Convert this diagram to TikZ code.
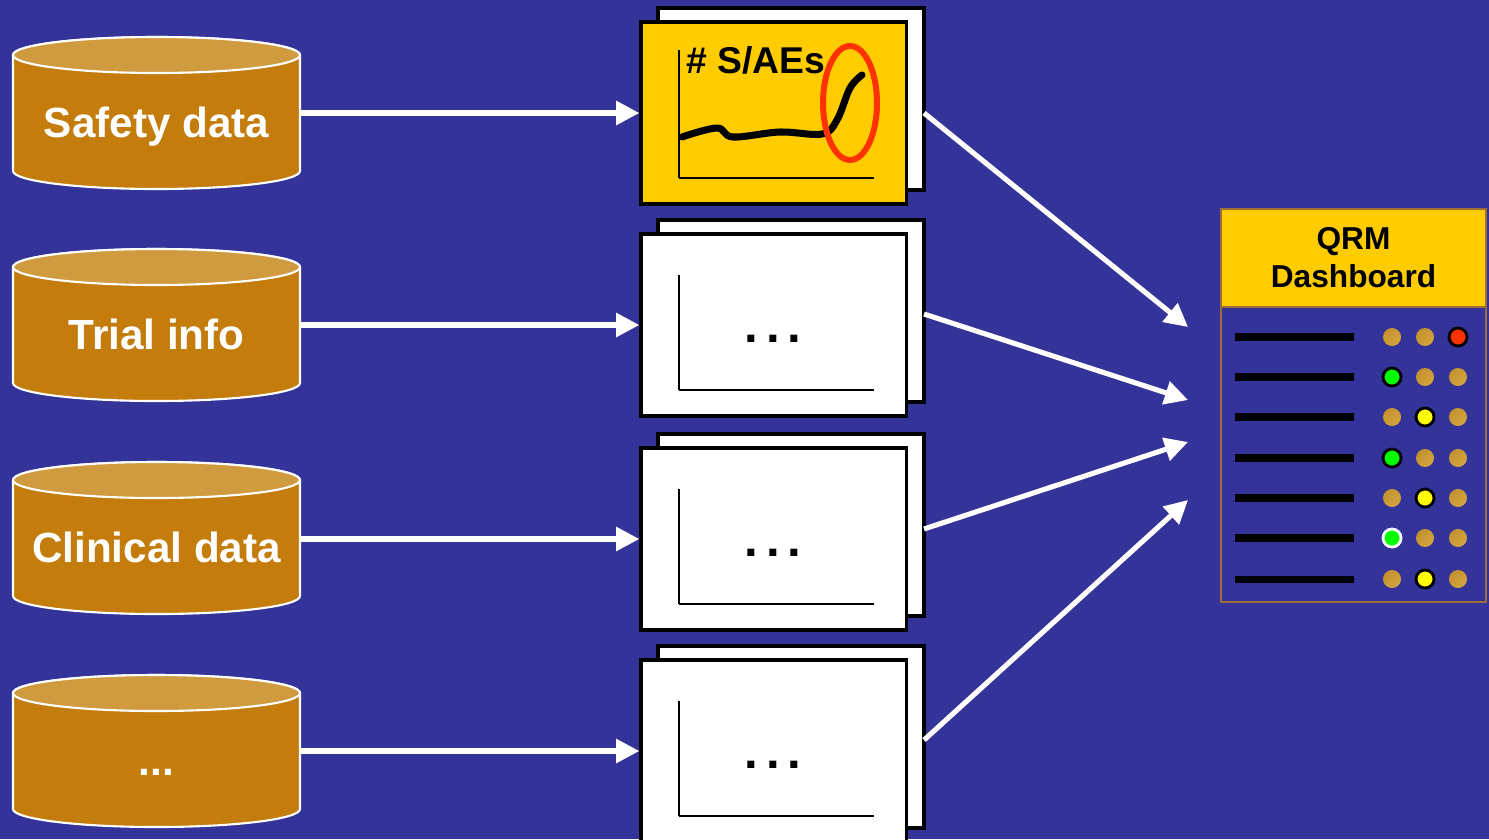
\documentclass[tikz,border=0pt]{standalone}
\usepackage{fontspec}
\setmainfont{Liberation Sans}
\usetikzlibrary{arrows.meta}
\definecolor{bgblue}{HTML}{333399}
\definecolor{cylbody}{HTML}{C47D0C}
\definecolor{cyltop}{HTML}{D09A3E}
\definecolor{qyellow}{HTML}{FFCC00}
\definecolor{qred}{HTML}{FF3300}
\definecolor{qgreen}{HTML}{00FF00}
\definecolor{qlemon}{HTML}{FFFF00}
\definecolor{qgold}{HTML}{D3A53F}
\definecolor{qgolddark}{HTML}{C4922E}
\definecolor{qbrown}{HTML}{9C6E34}
\newcommand\moredata{...}
\tikzset{
  flow/.style={draw=white, line width=1.45pt, -{Triangle[length=6.6pt,width=6.6pt]}},
  dblabel/.style={text=white, anchor=base, font=\fontsize{12}{14}\selectfont\bfseries},
  cylbodyst/.style={fill=cylbody, draw=white, line width=0.6pt},
  cyltopst/.style={fill=cyltop, draw=white, line width=0.6pt},
  backsheet/.style={fill=white, draw=black, line width=0.9pt},
  frontsheet/.style={draw=black, line width=0.9pt, minimum width=2.65cm, minimum height=1.82cm, inner sep=0pt},
  axis/.style={draw=black, line width=0.7pt},
  ellip/.style={font=\fontsize{14}{16}\selectfont\bfseries},
  rowbar/.style={draw=black, line width=2pt},
  lamp/.style={circle, minimum size=0.18cm, inner sep=0pt},
  dim/.style={lamp, top color=qgolddark, bottom color=qgold, shading angle=45},
  lred/.style={lamp, fill=qred, draw=black, line width=0.8pt},
  lgreen/.style={lamp, fill=qgreen, draw=black, line width=0.8pt},
  llemon/.style={lamp, fill=qlemon, draw=black, line width=0.8pt},
  lgreenw/.style={lamp, fill=qgreen, draw=white, line width=0.8pt},
}
\begin{document}
\begin{tikzpicture}[x=0.01cm, y=-0.01cm]
  % canvas
  \fill[bgblue] (0,0) rectangle (1489,839);
  \useasboundingbox (0,0) rectangle (1489,839);
  \clip (0,0) rectangle (1489,839);

  % data stores (cylinders), top edges at T
  \foreach \T/\nm/\txt in {37/db1/Safety data, 249/db2/Trial info, 462/db3/Clinical data, 675/db4/\moredata}{
    \draw[cylbodyst] (13,\T+18) -- (13,\T+134) arc (180:0:143.5 and 18) -- (300,\T+18) arc (0:-180:143.5 and 18) -- cycle;
    \draw[cyltopst] (156.5,\T+18) ellipse (143.5 and 18);
    \node[dblabel] (\nm) at (156.5,\T+100) {\txt};
    \coordinate (\nm e) at (300,\T+76);
  }

  % chart sheets, front sheet tops at T
  \foreach \T/\nm/\fc in {22/ch1/qyellow, 234/ch2/white, 448/ch3/white, 660/ch4/white}{
    \draw[backsheet] (658,\T-14) rectangle (924,\T+168);
    \node[frontsheet, fill=\fc] (\nm) at (773.5,\T+91) {};
    \draw[axis] (679,\T+156) -- (874,\T+156);
  }
  \draw[axis] (679,50) -- (679,178);
  \foreach \T/\nm in {234/d2, 448/d3, 660/d4}{
    \draw[axis] (679,\T+41) -- (679,\T+156);
    \node[ellip] (\nm) at (773,\T+105) {.\kern2.2pt.\kern2.2pt.};
  }

  % first chart: adverse event count
  \node[font=\fontsize{10.6}{12}\selectfont\bfseries] (saes) at (756,60) {\# S/AEs};
  \draw[black, line width=2pt, line cap=round, line join=round]
    plot[smooth, tension=0.6] coordinates {(682,137) (717,128) (733,137) (780,132) (822,134) (837,120) (850,88) (862,75)};
  \draw[qred, line width=1.7pt] (850,103) ellipse (27 and 57);

  % dashboard
  \node[fill=qyellow, draw=qbrown, line width=0.7pt, minimum width=2.65cm, minimum height=0.98cm, inner sep=0pt,
        align=center, font=\fontsize{9}{10.8}\selectfont\bfseries] (qrm) at (1353.5,258) {QRM\\Dashboard};
  \node[draw=qbrown, line width=0.7pt, minimum width=2.65cm, minimum height=2.95cm, inner sep=0pt] (board) at (1353.5,454.5) {};

  \foreach \y/\a/\b/\c in {337/dim/dim/lred,
                           377/lgreen/dim/dim,
                           417/dim/llemon/dim,
                           458/lgreen/dim/dim,
                           498/dim/llemon/dim,
                           538/lgreenw/dim/dim,
                           579/dim/llemon/dim}{
    \draw[rowbar] (1235,\y) -- (1354,\y);
    \node[\a] at (1392,\y) {};
    \node[\b] at (1425,\y) {};
    \node[\c] at (1458,\y) {};
  }

  % connectors: stores to charts (horizontal)
  \draw[flow] (ch1.west -| db1e) -- (ch1.west);
  \draw[flow] (ch2.west -| db2e) -- (ch2.west);
  \draw[flow] (ch3.west -| db3e) -- (ch3.west);
  \draw[flow] (ch4.west -| db4e) -- (ch4.west);

  % connectors: charts to dashboard
  \coordinate (o1) at (924,113);
  \coordinate (o2) at (924,314);
  \coordinate (o3) at (924,529);
  \coordinate (o4) at (924,740);
  \coordinate (i1) at (1188,327);
  \coordinate (i2) at (1188,400);
  \coordinate (i3) at (1188,442);
  \coordinate (i4) at (1188,500);
  \draw[flow] (o1) -- (i1);
  \draw[flow] (o2) -- (i2);
  \draw[flow] (o3) -- (i3);
  \draw[flow] (o4) -- (i4);
\end{tikzpicture}
\end{document}
